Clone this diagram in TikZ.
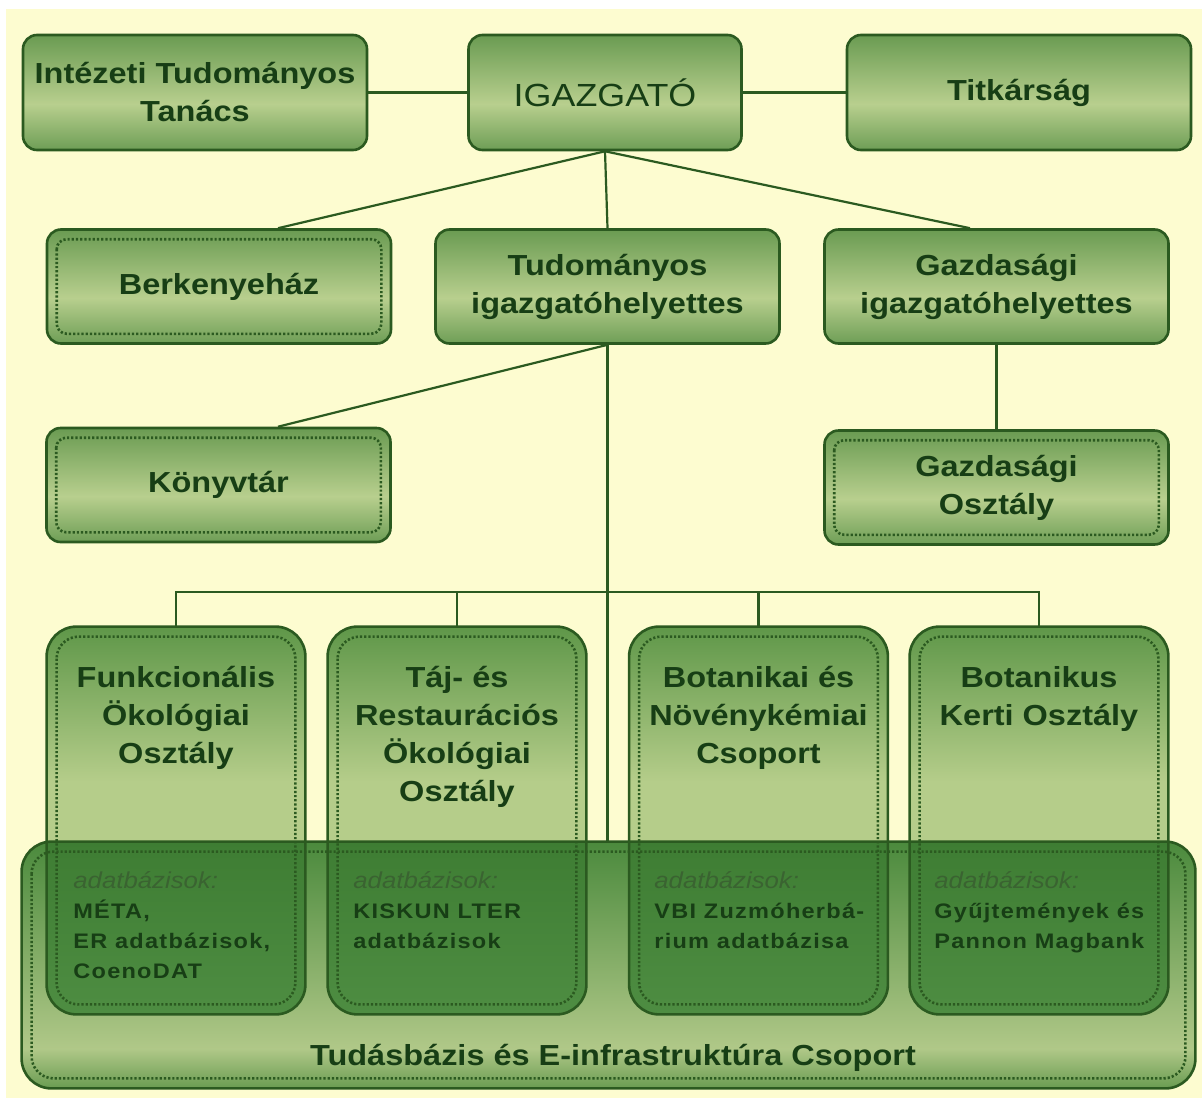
\documentclass[tikz,border=0pt]{standalone}
\usepackage{fontspec}
\setmainfont{Liberation Sans}[FakeStretch=1.12]
\newfontfamily\subfont{Liberation Sans}[FakeStretch=1.12,LetterSpace=6]
\usetikzlibrary{calc}
\definecolor{cream}{HTML}{FDFCD0}
\definecolor{edge}{HTML}{2B5A20}
\definecolor{txt}{HTML}{173E15}
\definecolor{subtxt}{HTML}{3A6331}
\definecolor{gdark}{HTML}{6A9B52}
\definecolor{glight}{HTML}{B8CF8E}
\definecolor{gbot}{HTML}{6E9E56}
\definecolor{ddark}{HTML}{5F9749}
\definecolor{dlight}{HTML}{B5CD8A}
\definecolor{btop}{HTML}{4B8A3D}
\definecolor{blight}{HTML}{B0C888}
\definecolor{bbot}{HTML}{6A9C52}
\definecolor{otop}{HTML}{3E7D33}
\definecolor{obot}{HTML}{4E8D42}
\pgfdeclareverticalshading{deptshade}{100bp}{color(0bp)=(dlight); color(55bp)=(dlight); color(75bp)=(ddark); color(100bp)=(ddark)}
\pgfdeclareverticalshading{bigshade}{100bp}{color(0bp)=(bbot); color(25bp)=(bbot); color(33bp)=(blight); color(75bp)=(btop); color(100bp)=(btop)}
\pgfdeclareverticalshading{topshade}{100bp}{color(0bp)=(gbot); color(25bp)=(gbot); color(45bp)=(glight); color(75bp)=(gdark); color(100bp)=(gdark)}
\tikzset{
  tbox/.style={rectangle, rounded corners=7pt, draw=edge, line width=1.3pt,
    shade, shading=topshade, shading angle=0,
    minimum width=172pt, minimum height=57.5pt, inner sep=0pt,
    text=txt, align=center, font=\fontsize{14.5}{19}\selectfont\bfseries},
  dbox/.style={rectangle, rounded corners=15pt, shade, shading=deptshade, shading angle=0,
    minimum width=129pt, minimum height=193.5pt, inner sep=0pt},
  lbl/.style={text=txt, align=center, inner sep=0pt, font=\fontsize{14.5}{19}\selectfont\bfseries},
  sub/.style={anchor=north west, align=left, inner sep=0pt, text=txt,
    font=\fontsize{10.5}{15}\selectfont\subfont\bfseries},
  conn/.style={draw=edge, line width=1.1pt},
  bord/.style={draw=edge, line width=1.3pt},
  dots/.style={draw=edge, line width=1.3pt, dash pattern=on 1.1pt off 1pt}
}
\newcommand{\adb}{\rule{0pt}{12pt}{\rmfamily\mdseries\itshape\color{subtxt}\fontsize{11.5}{15}\selectfont adatbázisok:}}
\begin{document}
\begin{tikzpicture}[x=0.5pt,y=-0.5pt]
\useasboundingbox (0,0) rectangle (1202,1103);
\fill[white] (0,0) rectangle (1202,1103);
\fill[cream] (6,9) rectangle (1202,1098);

% top level boxes
\node[tbox] (itt) at (195,92.5) {Intézeti Tudományos\\Tanács};
\node[tbox, minimum width=136.5pt, font=\fontsize{16}{19}\selectfont\mdseries] (igaz) at (605,92.5) {IGAZGATÓ};
\node[tbox] (titk) at (1019,92.5) {Titkárság};
\node[tbox, minimum height=57pt] (berk) at (219,286.5) {Berkenyeház};
\node[tbox, minimum height=57pt] (tud) at (607.5,286.5) {Tudományos\\igazgatóhelyettes};
\node[tbox, minimum height=57pt] (gazd) at (996.5,286.5) {Gazdasági\\igazgatóhelyettes};
\node[tbox, minimum height=57pt] (konyv) at (218.5,485) {Könyvtár};
\node[tbox, minimum height=57pt] (gazdo) at (996.5,487.5) {Gazdasági\\Osztály};
\foreach \n in {berk,konyv,gazdo}
  \draw[dots, rounded corners=5pt] ([shift={(11,11)}]\n.north west) rectangle ([shift={(-11,-11)}]\n.south east);

% connectors
\draw[conn] (itt.east) -- (igaz.west);
\draw[conn] (igaz.east) -- (titk.west);
\draw[conn] (igaz.south) -- (tud.north);
\draw[conn] (igaz.south) -- ([xshift=29.5pt]berk.north);
\draw[conn] (igaz.south) -- ([xshift=-13.25pt]gazd.north);
\draw[conn] (tud.south) -- ([xshift=29.75pt]konyv.north);
\draw[conn] (gazd.south) -- (gazdo.north);

% big box and department boxes
\node[rectangle, rounded corners=15pt, shade, shading=bigshade, shading angle=0,
  minimum width=586.5pt, minimum height=123pt, inner sep=0pt] (big) at (608.5,965) {};
\node[dbox] (funk) at (176,820.5) {};
\node[dbox] (taj) at (457,820.5) {};
\node[dbox] (bot) at (758.5,820.5) {};
\node[dbox] (botk) at (1039,820.5) {};
\foreach \n in {funk,taj,bot,botk} {
  \begin{scope}
    \clip[rounded corners=15pt] (big.north west) rectangle (big.south east);
    \clip[rounded corners=15pt] (\n.north west) rectangle (\n.south east);
    \shade[top color=otop, bottom color=obot] (\n.north west |- big.north) rectangle (\n.south east);
  \end{scope}
}
\coordinate (bus) at ($(funk.north)+(0,-35)$);
\draw[conn] (funk.north) -- (bus) -| (botk.north);
\draw[conn] (taj.north) -- (taj.north |- bus);
\draw[conn] (bot.north) -- (bot.north |- bus);
\draw[conn] (tud.south) -- (tud.south |- big.north);

\foreach \n in {big,funk,taj,bot,botk} {
  \draw[bord, rounded corners=15pt] (\n.north west) rectangle (\n.south east);
  \draw[dots, rounded corners=11pt] ([shift={(10,10)}]\n.north west) rectangle ([shift={(-10,-10)}]\n.south east);
}

% department titles
\node[lbl, anchor=north] (funkT) at (176,657) {\rule{0pt}{15pt}Funkcionális\\Ökológiai\\Osztály};
\node[lbl, anchor=north] (tajT) at (457,657) {\rule{0pt}{15pt}Táj- és\\Restaurációs\\Ökológiai\\Osztály};
\node[lbl, anchor=north] (botT) at (758.5,657) {\rule{0pt}{15pt}Botanikai és\\Növénykémiai\\Csoport};
\node[lbl, anchor=north] (botkT) at (1039,657) {\rule{0pt}{15pt}Botanikus\\Kerti Osztály};

% database texts
\node[sub] (funkD) at (73,864) {\adb\\MÉTA,\\ER adatbázisok,\\CoenoDAT};
\node[sub] (tajD) at (353,864) {\adb\\KISKUN LTER\\adatbázisok};
\node[sub] (botD) at (654,864) {\adb\\VBI Zuzmóherbá-\\rium adatbázisa};
\node[sub] (botkD) at (934,864) {\adb\\Gyűjtemények és\\Pannon Magbank};

\node[lbl, anchor=base] (bigT) at (613,1065) {Tudásbázis és E-infrastruktúra Csoport};
\end{tikzpicture}
\end{document}
